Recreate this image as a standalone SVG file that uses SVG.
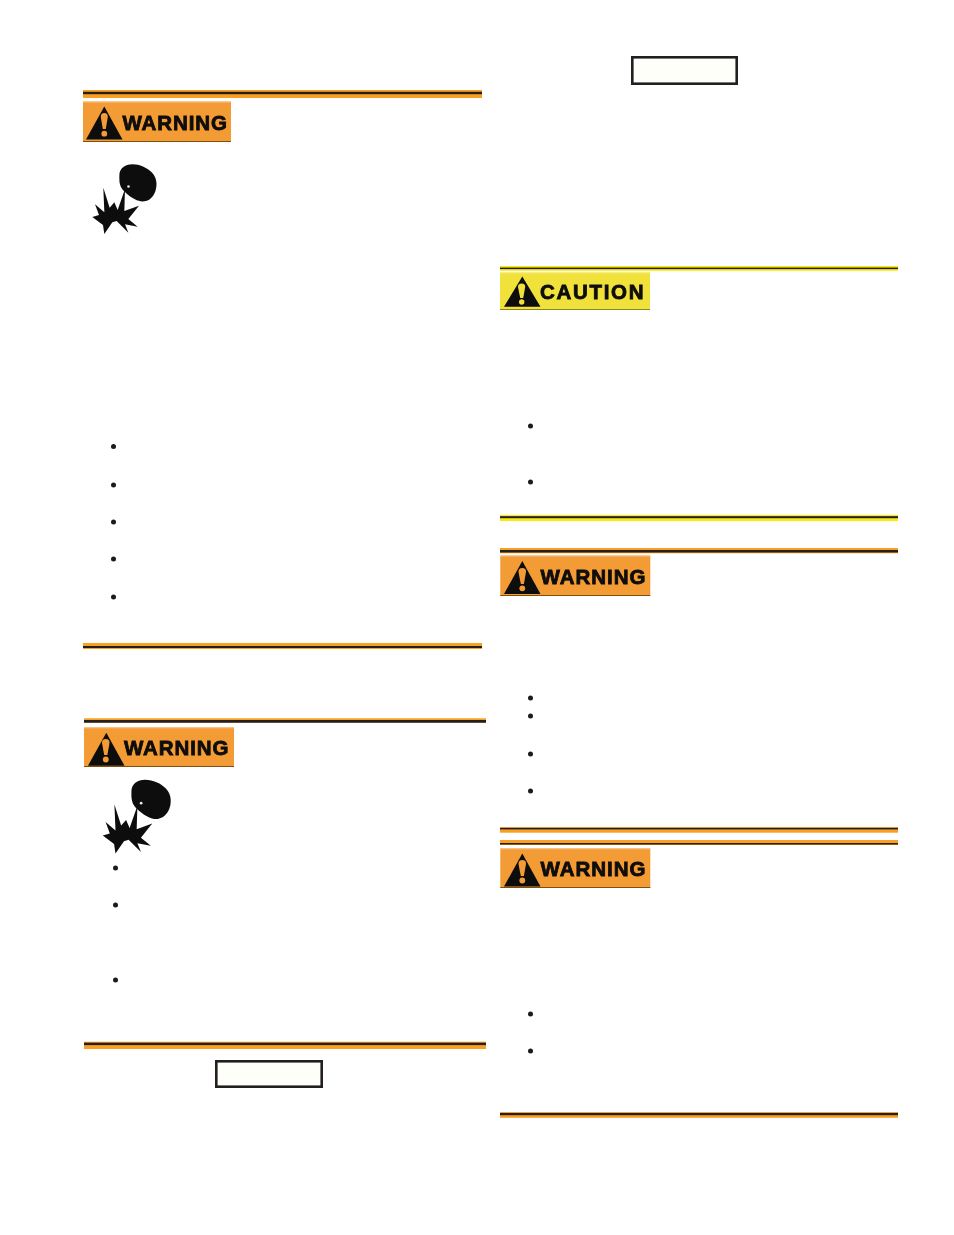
<svg xmlns="http://www.w3.org/2000/svg" xmlns:xlink="http://www.w3.org/1999/xlink" width="954" height="1235" viewBox="0 0 954 1235">
<style>
.or{fill:#fa9f20}.ye{fill:#f8ea10}.bk{fill:#231f20}
.bw{fill:#f39c35}.bc{fill:#f1e13a}.hi{fill:#f8c48a}.hc{fill:#f7ee90}.lo{fill:#80500f}.lc{fill:#8a8420}
.tr{fill:#0c0a08}.ex{fill:#f39c35}.exc{fill:#f1e13a}
.lb{font-family:"Liberation Sans",Arial,sans-serif;font-weight:700;font-size:20.500px;fill:#0c0a08;stroke:#0c0a08;stroke-width:.8px}
.bu{fill:#1c1a1a}
.box{fill:#fffff9;stroke:#231f20;stroke-width:2.6px}
.soft{filter:url(#soft)}
</style>
<defs>
<filter id="soft" x="-5%" y="-5%" width="110%" height="110%"><feGaussianBlur stdDeviation=".35"/></filter>
<filter id="soft2" x="-5%" y="-5%" width="110%" height="110%"><feGaussianBlur stdDeviation=".55"/></filter>
<g id="tri"><path class="tr" d="M18.3 0L36.5 33H0Z"/></g>
<g id="bomb" filter="url(#soft2)">
<path fill="#0e0c0c" transform="scale(.3333)" d="M133 272C133 250 150 238 172 238C195 238 215 248 230 262C242 274 246 290 244 305C242 325 230 346 208 349C190 351 172 340 160 330C150 322 138 312 135 298C133 290 133 282 133 272Z"/>
<circle cx="53.500" cy="101.500" r="1.300" fill="#e8e8e8"/>
<path fill="#0e0c0c" transform="scale(.3333)" d="M85 308L104 368L118 352L128 375L150 312L148 378L192 362L160 402L188 425L150 418L160 443L125 408L112 412L88 447L84 420L52 396L72 390L60 358L88 382Z"/>
</g>
</defs>

<g id="connectors"></g>

<g id="rule-1"><rect class="or" x="83" y="90" width="399" height="8"/><rect class="bk" x="83" y="91.800" width="399" height="2.400"/></g>
<g id="warning-1" class="soft">
<rect class="bw" x="83" y="101.500" width="148" height="40"/><rect class="hi" x="83" y="101.500" width="148" height="1"/><rect class="lo" x="83" y="141" width="148" height="1"/>
<use href="#tri" transform="translate(86 106.500)"/>
<path class="ex" d="M100.800 117Q100.600 113 104.300 113Q108 113 107.800 117L105.800 129H102.800Z"/><circle class="ex" cx="104.300" cy="133.700" r="2.900"/>
<text class="lb" x="122.500" y="129.500" textLength="104.500">WARNING</text>
</g>
<use id="icon-1" href="#bomb" transform="translate(75 85)"/>

<g id="bullets-1"><circle class="bu" cx="113.500" cy="446.500" r="2.500"/><circle class="bu" cx="113.500" cy="485" r="2.500"/><circle class="bu" cx="113.500" cy="522" r="2.500"/><circle class="bu" cx="113.500" cy="559" r="2.500"/><circle class="bu" cx="113.500" cy="597" r="2.500"/></g>
<g id="rule-2"><rect class="or" x="83" y="643" width="399" height="6"/><rect class="bk" x="83" y="646" width="399" height="2"/></g>

<g id="rule-3"><rect class="or" x="84" y="718.300" width="402" height="4.500"/><rect class="bk" x="84" y="720" width="402" height="2.700"/></g>
<g id="warning-2" class="soft">
<rect class="bw" x="84" y="727.300" width="150" height="39.500"/><rect class="hi" x="84" y="727.300" width="150" height="1"/><rect class="lo" x="84" y="766" width="150" height="1"/>
<use href="#tri" transform="translate(88 732.700)"/>
<path class="ex" d="M102 743Q101.800 739 105.800 739Q109.800 739 109.500 743L107.400 755H104.200Z"/><circle class="ex" cx="105.800" cy="759.500" r="2.900"/>
<text class="lb" x="124" y="755" textLength="104.500">WARNING</text>
</g>
<use id="icon-2" href="#bomb" transform="translate(84.400 695.600) scale(1.06)"/>
<g id="bullets-2"><circle class="bu" cx="115.500" cy="868" r="2.500"/><circle class="bu" cx="115.500" cy="905" r="2.500"/><circle class="bu" cx="115.500" cy="980" r="2.500"/></g>
<g id="rule-4"><rect class="or" x="84" y="1041.700" width="402" height="7.300"/><rect class="bk" x="84" y="1042.700" width="402" height="2.400"/></g>
<g id="box-1"><rect class="box" x="216.300" y="1061.300" width="105.400" height="25.400"/></g>

<g id="box-2"><rect class="box" x="632.300" y="57.300" width="104.400" height="26.400"/></g>

<g id="rule-5"><rect class="ye" x="500" y="266" width="398" height="4.800"/><rect class="bk" x="500" y="267.600" width="398" height="1.500"/></g>
<g id="caution-1" class="soft">
<rect class="bc" x="500" y="272.300" width="150" height="37.700"/><rect class="hc" x="500" y="272.300" width="150" height="1"/><rect class="lc" x="500" y="309" width="150" height="1"/>
<use href="#tri" transform="translate(504 276.500) scale(1 .92)" />
<path class="exc" d="M518 287Q517.800 283.500 521.700 283.500Q525.400 283.500 525.200 287L523.200 298H520.200Z"/><circle class="exc" cx="521.700" cy="302" r="2.700"/>
<text class="lb" x="540" y="299" textLength="103.500">CAUTION</text>
</g>
<g id="bullets-3"><circle class="bu" cx="530.500" cy="426" r="2.500"/><circle class="bu" cx="530.500" cy="482" r="2.500"/></g>
<g id="rule-6"><rect class="ye" x="500" y="515" width="398" height="6"/><rect class="bk" x="500" y="516.200" width="398" height="2"/></g>

<g id="rule-7"><rect class="or" x="500" y="548" width="398" height="5.300"/><rect class="bk" x="500" y="550" width="398" height="2.500"/></g>
<g id="warning-3" class="soft">
<rect class="bw" x="500.300" y="555.500" width="150" height="40"/><rect class="hi" x="500.300" y="555.500" width="150" height="1"/><rect class="lo" x="500.300" y="595" width="150" height="1"/>
<use href="#tri" transform="translate(504 561)"/>
<path class="ex" d="M518.500 572Q518.300 568 522.300 568Q526.300 568 526 572L523.900 584H520.800Z"/><circle class="ex" cx="522.300" cy="588.300" r="2.900"/>
<text class="lb" x="540.500" y="583.500" textLength="105">WARNING</text>
</g>
<g id="bullets-4"><circle class="bu" cx="530.500" cy="698" r="2.500"/><circle class="bu" cx="530.500" cy="716" r="2.500"/><circle class="bu" cx="530.500" cy="754" r="2.500"/><circle class="bu" cx="530.500" cy="791" r="2.500"/></g>
<g id="rule-8"><rect class="or" x="500" y="827.300" width="398" height="5.400"/><rect class="bk" x="500" y="827.800" width="398" height="1.600"/></g>

<g id="rule-9"><rect class="or" x="500" y="840" width="398" height="5"/><rect class="bk" x="500" y="843" width="398" height="1.500"/></g>
<g id="warning-4" class="soft">
<rect class="bw" x="500.300" y="848.300" width="150" height="39.500"/><rect class="hi" x="500.300" y="848.300" width="150" height="1"/><rect class="lo" x="500.300" y="887" width="150" height="1"/>
<use href="#tri" transform="translate(504 853.500)"/>
<path class="ex" d="M518.500 864Q518.300 860 522.300 860Q526.300 860 526 864L523.900 876H520.800Z"/><circle class="ex" cx="522.300" cy="880.500" r="2.900"/>
<text class="lb" x="540.500" y="875.500" textLength="105">WARNING</text>
</g>
<g id="bullets-5"><circle class="bu" cx="530.500" cy="1014" r="2.500"/><circle class="bu" cx="530.500" cy="1051" r="2.500"/></g>
<g id="rule-10"><rect class="or" x="500" y="1112" width="398" height="5.800"/><rect class="bk" x="500" y="1113" width="398" height="2.200"/></g>
</svg>
